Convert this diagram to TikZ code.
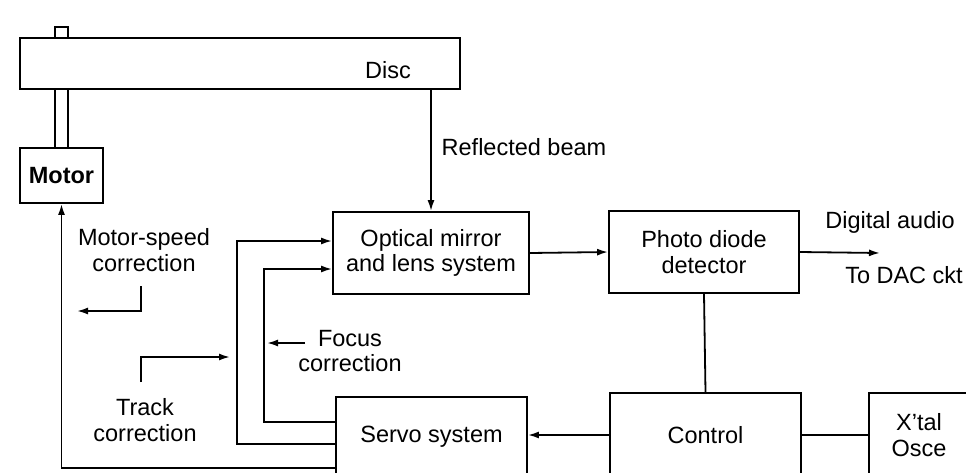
\documentclass[tikz,border=0pt]{standalone}
\usepackage{fontspec}
\setmainfont{Liberation Sans}
\usepackage{tikz}
\usetikzlibrary{arrows.meta, calc}

\tikzset{
  blk/.style={draw, line width=1.8pt, fill=white, align=center},
  arr/.style={line width=1.8pt, -{Latex[length=11pt,width=7pt]}},
  ln/.style={line width=1.8pt},
  lbl/.style={align=center, inner sep=0pt}
}

\begin{document}
\begin{tikzpicture}[x=1pt, y=-1pt, font=\fontsize{23.5}{25.5}\selectfont]
\useasboundingbox (0,0) rectangle (966,472);
% disc, shaft and motor
\node[blk, minimum width=13, minimum height=121] (shaft) at (61.5,87.5) {};
\node[blk, minimum width=440, minimum height=51] (disc) at (240,63.5) {};
\node[lbl] (disctxt) at (388,70) {Disc};
\node[blk, minimum width=83, minimum height=55] (motor) at (61.5,175.5) {\bfseries Motor};
% main blocks
\node[blk, minimum width=196, minimum height=82] (optic) at (431,253) {Optical mirror\\and lens system};
\node[blk, minimum width=190, minimum height=82] (photo) at (704,252) {Photo diode\\detector};
\node[blk, minimum width=191, minimum height=84] (control) at (705.5,435) {Control};
\node[blk, minimum width=191, minimum height=80] (servo) at (431.5,437) {Servo system};
\node[blk, minimum width=100, minimum height=84] (xtal) at (919,435) {X'tal\\Osce};
% labels
\node[lbl] (beam) at (524,147) {Reflected beam};
\node[lbl] (audio) at (890,222) {Digital audio};
\node[lbl] (dac) at (904,275) {To DAC ckt};
\node[lbl] (mslab) at (144,250) {Motor-speed\\correction};
\node[lbl] (fclab) at (350,351) {Focus\\correction};
\node[lbl] (tclab) at (145,420) {Track\\correction};
\coordinate (out) at (880,253);
\coordinate (msA) at (141,286);
\coordinate (msB) at (77,311);
\coordinate (tcA) at (141,382);
\coordinate (tcB) at (230,357);
\coordinate (fcA) at (305,343);
\coordinate (fcB) at (267,343);
% signal path
\draw[arr] (disc.south -| optic.north) -- (optic.north);
\draw[arr] (optic.east) -- (photo.west);
\draw[arr] (photo.east) -- (out);
\draw[ln] (photo.south) -- (control.north);
\draw[ln] (control.east) -- (xtal.west);
\draw[arr] (control.west) -- (control.west -| servo.east);
% feedback loops
\draw[arr] ([yshift=-31pt]servo.west) -| (motor.south);
\draw[arr] ([yshift=-7pt]servo.west) -- ++(-98,0) |- ([yshift=12pt]optic.west);
\draw[arr] ([yshift=15pt]servo.west) -- ++(-71,0) |- ([yshift=-16pt]optic.west);
% small label arrows
\draw[arr] (msA) |- (msB);
\draw[arr] (tcA) |- (tcB);
\draw[arr] (fcA) -- (fcB);
\end{tikzpicture}
\end{document}
